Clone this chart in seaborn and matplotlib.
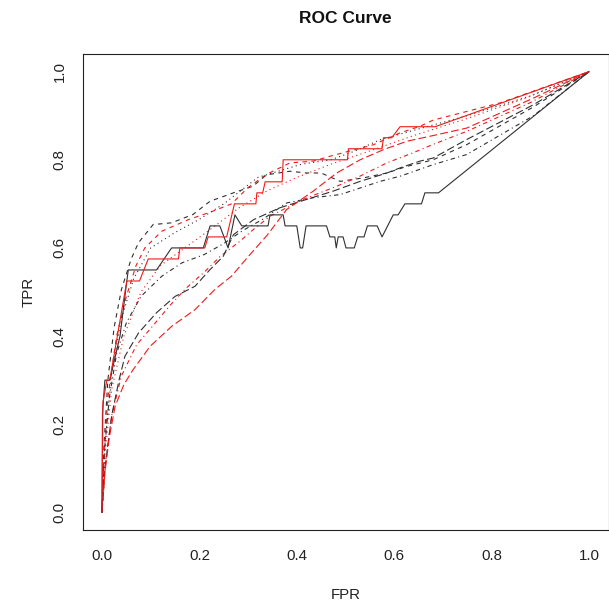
import numpy as np
import pandas as pd
import matplotlib
matplotlib.use("Agg")
import matplotlib.pyplot as plt
import seaborn as sns

# ROC curves (false positive rate, true positive rate) for each model run
fpr_black_solid = [0, 0.001, 0.006, 0.016, 0.037, 0.051, 0.054, 0.112, 0.143, 0.208,
                   0.222, 0.242, 0.259, 0.273, 0.287, 0.341, 0.345, 0.372, 0.376, 0.400,
                   0.407, 0.412, 0.419, 0.461, 0.468, 0.478, 0.481, 0.485, 0.495, 0.501,
                   0.518, 0.525, 0.538, 0.545, 0.565, 0.575, 0.598, 0.608, 0.622, 0.656,
                   0.663, 0.691, 1.0]
tpr_black_solid = [0, 0.225, 0.30, 0.30, 0.40, 0.525, 0.55, 0.55, 0.60, 0.60,
                   0.65, 0.65, 0.60, 0.675, 0.65, 0.65, 0.675, 0.675, 0.65, 0.65,
                   0.60, 0.60, 0.65, 0.65, 0.625, 0.625, 0.60, 0.625, 0.625, 0.60,
                   0.60, 0.625, 0.625, 0.65, 0.65, 0.625, 0.675, 0.675, 0.70, 0.70,
                   0.725, 0.725, 1.0]

fpr_red_solid = [0, 0.002, 0.010, 0.016, 0.051, 0.077, 0.095, 0.157, 0.160, 0.211,
                 0.218, 0.256, 0.272, 0.316, 0.318, 0.330, 0.335, 0.370, 0.372, 0.504,
                 0.506, 0.575, 0.578, 0.595, 0.612, 0.684, 1.0]
tpr_red_solid = [0, 0.25, 0.30, 0.30, 0.525, 0.525, 0.575, 0.575, 0.60, 0.60,
                 0.625, 0.625, 0.70, 0.70, 0.725, 0.725, 0.75, 0.75, 0.80, 0.80,
                 0.825, 0.825, 0.85, 0.85, 0.875, 0.875, 1.0]

fpr_black_dashed = [0, 0.004, 0.012, 0.025, 0.040, 0.060, 0.075, 0.105, 0.143, 0.187,
                    0.222, 0.270, 0.310, 0.338, 0.386, 0.420, 0.450, 0.489, 0.537, 0.585,
                    0.626, 0.680, 0.750, 0.886, 1.0]
tpr_black_dashed = [0, 0.15, 0.30, 0.42, 0.506, 0.575, 0.612, 0.653, 0.657, 0.676,
                    0.706, 0.725, 0.740, 0.766, 0.774, 0.770, 0.770, 0.751, 0.759, 0.770,
                    0.785, 0.800, 0.835, 0.920, 1.0]

fpr_red_dashed = [0, 0.004, 0.012, 0.030, 0.050, 0.070, 0.088, 0.123, 0.177, 0.222,
                  0.266, 0.300, 0.338, 0.386, 0.434, 0.468, 0.557, 0.612, 0.653, 0.680,
                  0.817, 1.0]
tpr_red_dashed = [0, 0.12, 0.26, 0.40, 0.49, 0.56, 0.60, 0.638, 0.664, 0.681,
                  0.700, 0.737, 0.767, 0.793, 0.797, 0.808, 0.834, 0.861, 0.876, 0.890,
                  0.929, 1.0]

fpr_black_dotted = [0, 0.006, 0.020, 0.040, 0.065, 0.100, 0.150, 0.200, 0.250, 0.320,
                    0.410, 0.470, 0.520, 0.570, 0.650, 0.750, 0.880, 1.0]
tpr_black_dotted = [0, 0.15, 0.32, 0.44, 0.53, 0.60, 0.635, 0.665, 0.700, 0.760,
                    0.790, 0.800, 0.820, 0.845, 0.870, 0.900, 0.945, 1.0]

fpr_red_dotted = [0, 0.006, 0.020, 0.045, 0.080, 0.120, 0.170, 0.220, 0.280, 0.340,
                  0.400, 0.470, 0.550, 0.640, 0.740, 0.870, 1.0]
tpr_red_dotted = [0, 0.13, 0.28, 0.40, 0.50, 0.56, 0.60, 0.64, 0.69, 0.73,
                  0.76, 0.79, 0.82, 0.855, 0.89, 0.94, 1.0]

fpr_black_dotdash = [0, 0.005, 0.015, 0.030, 0.050, 0.080, 0.123, 0.164, 0.210, 0.250,
                     0.290, 0.330, 0.379, 0.434, 0.489, 0.530, 0.571, 0.613, 0.680, 0.749,
                     0.886, 1.0]
tpr_black_dotdash = [0, 0.14, 0.26, 0.36, 0.43, 0.49, 0.536, 0.566, 0.585, 0.610,
                     0.640, 0.665, 0.702, 0.714, 0.721, 0.736, 0.751, 0.763, 0.789, 0.812,
                     0.900, 1.0]

fpr_red_dotdash = [0, 0.008, 0.020, 0.040, 0.071, 0.102, 0.140, 0.174, 0.210, 0.242,
                   0.283, 0.311, 0.345, 0.413, 0.482, 0.530, 0.585, 0.639, 0.680, 0.750,
                   0.880, 1.0]
tpr_red_dotdash = [0, 0.12, 0.22, 0.31, 0.38, 0.42, 0.47, 0.51, 0.545, 0.58,
                   0.615, 0.642, 0.672, 0.710, 0.740, 0.763, 0.793, 0.816, 0.835, 0.865,
                   0.930, 1.0]

fpr_black_longdash = [0, 0.006, 0.020, 0.035, 0.047, 0.075, 0.112, 0.150, 0.191, 0.222,
                      0.249, 0.270, 0.311, 0.365, 0.420, 0.475, 0.530, 0.585, 0.613, 0.653,
                      0.680, 0.749, 0.886, 1.0]
tpr_black_longdash = [0, 0.10, 0.22, 0.30, 0.354, 0.407, 0.453, 0.490, 0.513, 0.551,
                      0.581, 0.630, 0.664, 0.691, 0.710, 0.729, 0.751, 0.770, 0.782, 0.797,
                      0.804, 0.846, 0.925, 1.0]

fpr_red_longdash = [0, 0.006, 0.015, 0.027, 0.045, 0.064, 0.099, 0.143, 0.191, 0.232,
                    0.266, 0.300, 0.340, 0.379, 0.434, 0.482, 0.530, 0.578, 0.626, 0.680,
                    0.749, 0.886, 1.0]
tpr_red_longdash = [0, 0.09, 0.17, 0.241, 0.29, 0.324, 0.377, 0.422, 0.460, 0.506,
                    0.536, 0.580, 0.630, 0.687, 0.729, 0.770, 0.800, 0.823, 0.842, 0.855,
                    0.872, 0.940, 1.0]

x_ticks = [0.0, 0.2, 0.4, 0.6, 0.8, 1.0]
y_ticks = [0.0, 0.2, 0.4, 0.6, 0.8, 1.0]
tick_labels = ["0.0", "0.2", "0.4", "0.6", "0.8", "1.0"]

curves = {
    "black dashed": (fpr_black_dashed, tpr_black_dashed),
    "red dashed": (fpr_red_dashed, tpr_red_dashed),
    "black dotted": (fpr_black_dotted, tpr_black_dotted),
    "red dotted": (fpr_red_dotted, tpr_red_dotted),
    "black dotdash": (fpr_black_dotdash, tpr_black_dotdash),
    "red dotdash": (fpr_red_dotdash, tpr_red_dotdash),
    "black longdash": (fpr_black_longdash, tpr_black_longdash),
    "red longdash": (fpr_red_longdash, tpr_red_longdash),
    "black solid": (fpr_black_solid, tpr_black_solid),
    "red solid": (fpr_red_solid, tpr_red_solid),
}

frames = []
for name, (fx, ty) in curves.items():
    frames.append(pd.DataFrame({"model": name, "fpr": fx, "tpr": ty}))
roc = pd.concat(frames, ignore_index=True)

palette = {name: ("#f01a1a" if name.startswith("red") else "#303030") for name in curves}
dash_styles = {
    "solid": "",
    "dashed": (4, 4),
    "dotted": (1, 3),
    "dotdash": (1, 3, 4, 3),
    "longdash": (7, 3),
}
dashes = {name: dash_styles[name.split()[1]] for name in curves}

sns.set_style("white")
plt.rcParams["font.family"] = ["Liberation Sans", "DejaVu Sans"]

W, H = 609, 608
fig = plt.figure(figsize=(W / 100, H / 100), dpi=100)
left, right, top, bottom = 82.5, 608.5, 54, 530
ax = fig.add_axes([left / W, 1 - bottom / H, (right - left) / W, (bottom - top) / H])

sns.lineplot(data=roc, x="fpr", y="tpr", hue="model", style="model",
             palette=palette, dashes=dashes, sort=False, estimator=None,
             units="model", linewidth=0.8, legend=False, ax=ax)

ax.set_xlim(-0.04, 1.04)
ax.set_ylim(-0.04, 1.04)
ax.set_xticks(x_ticks)
ax.set_xticklabels(tick_labels)
ax.set_yticks(y_ticks)
ax.set_yticklabels(tick_labels, rotation=90, va="center")
ax.tick_params(axis="both", direction="out", length=5.5, width=0.8,
               color="#222222", labelsize=10.8, labelcolor="#222222")
ax.tick_params(axis="x", pad=8)
ax.tick_params(axis="y", pad=6)
for s in ax.spines.values():
    s.set_visible(True)
    s.set_color("#222222")
    s.set_linewidth(0.8)

ax.set_xlabel("FPR", fontsize=10.8, color="#222222")
ax.set_ylabel("TPR", fontsize=10.8, color="#222222")
ax.xaxis.set_label_coords(0.5, (bottom - 588) / (bottom - top))
ax.yaxis.set_label_coords((36 - left) / (right - left), 0.5)
ax.set_title("ROC Curve", fontsize=12.5, fontweight="bold", color="#111111", pad=22)

fig.savefig("out.png", dpi=100, facecolor="white")
